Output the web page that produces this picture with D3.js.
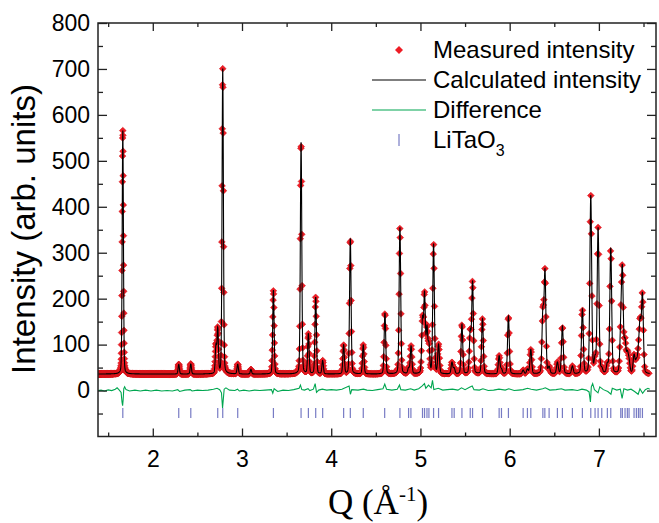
<!DOCTYPE html>
<html><head><meta charset="utf-8">
<script src="https://cdn.jsdelivr.net/npm/d3@7"></script>
<style>
body{margin:0;background:#fff}
svg{display:block}
text{font-family:"Liberation Sans",Arial,sans-serif;fill:#000}
</style>
</head><body>
<svg id="chart" width="659" height="523"></svg>
<script>
// ---- data ----
const peakQ = [1.664,2.291,2.426,2.708,2.728,2.784,2.952,3.10,3.352,3.662,3.744,3.826,3.904,4.139,4.214,4.359,4.602,4.770,4.867,4.895,5.023,5.046,5.073,5.095,5.147,5.203,5.353,5.378,5.465,5.558,5.584,5.695,5.882,5.908,5.986,6.151,6.199,6.237,6.372,6.396,6.442,6.535,6.591,6.703,6.815,6.909,6.957,6.991,7.032,7.095,7.133,7.245,7.263,7.293,7.319,7.338,7.394,7.420,7.443,7.462,7.488];
const peakTop = [566,57,58,95,132,700,57,46,218,540,122,203,65,99,331,99,169,355,48,96,150,205,130,95,318,99,61,48,144,125,235,156,75,46,162,44,46,89,165,255,50,61,140,53,176,423,65,352,45,55,309,118,250,102,75,60,75,60,75,140,205];
const background = 36;
const reflQ = [1.664,2.291,2.426,2.728,2.784,2.952,3.352,3.662,3.744,3.826,3.904,4.139,4.214,4.359,4.599,4.770,4.867,4.893,5.023,5.046,5.073,5.095,5.147,5.203,5.353,5.378,5.465,5.558,5.584,5.695,5.882,5.908,5.986,6.151,6.199,6.237,6.372,6.394,6.442,6.535,6.591,6.703,6.815,6.909,6.957,6.991,7.032,7.095,7.133,7.245,7.263,7.293,7.319,7.338,7.394,7.420,7.443,7.462,7.488];
const diffQ = [1.386,1.42,1.46,1.50,1.54,1.58,1.60,1.62,1.645,1.655,1.662,1.668,1.675,1.685,1.70,1.74,1.80,1.86,1.92,1.98,2.04,2.10,2.16,2.22,2.28,2.30,2.36,2.42,2.44,2.50,2.56,2.62,2.68,2.72,2.75,2.77,2.782,2.79,2.80,2.82,2.86,2.92,2.95,2.97,3.02,3.08,3.14,3.20,3.26,3.33,3.345,3.36,3.40,3.46,3.52,3.58,3.64,3.655,3.67,3.70,3.74,3.76,3.80,3.82,3.835,3.86,3.90,3.95,4.00,4.06,4.12,4.20,4.215,4.23,4.30,4.36,4.40,4.46,4.52,4.58,4.60,4.62,4.68,4.74,4.765,4.78,4.83,4.89,4.93,4.98,5.02,5.045,5.06,5.09,5.12,5.135,5.15,5.20,5.25,5.30,5.36,5.42,5.46,5.50,5.55,5.58,5.60,5.66,5.70,5.76,5.82,5.88,5.95,5.99,6.05,6.10,6.15,6.20,6.24,6.30,6.37,6.40,6.45,6.52,6.58,6.62,6.70,6.76,6.81,6.86,6.89,6.905,6.915,6.93,6.95,6.99,7.01,7.05,7.10,7.135,7.15,7.20,7.24,7.26,7.28,7.32,7.36,7.40,7.44,7.46,7.49,7.52,7.55,7.57];
const diffV = [0,1,-1,1.5,0,3,6,2,-4,-25,-33,-20,4,8,2,-1,1,-1,1,-1,1,-1,0,-1,2,-2,1,2,-1,1,0,1,3,5,2,-5,-38,-20,3,6,1,0,3,-1,1,-1,1,0,1,2,-6,4,-2,1,0,2,5,12,2,1,4,0,3,15,-4,1,3,1,2,1,3,10,-8,2,1,3,1,0,2,4,14,3,1,3,12,2,1,4,1,4,10,15,5,12,6,22,2,5,1,2,3,1,6,2,7,10,2,1,4,0,1,3,1,4,0,1,2,5,3,1,4,6,1,2,4,1,2,0,3,1,-3,-25,8,15,2,-5,8,2,-2,-8,5,1,3,-17,4,1,3,-2,-8,4,-6,2,5,3];
const xTicks = [2,3,4,5,6,7];
const yTicks = [0,100,200,300,400,500,600,700,800];
const legendLabels = ["Measured intensity","Calculated intensity","Difference","LiTaO"];

// ---- layout ----
const L=98, R=656, T=23, B=436.5;
const x = d3.scaleLinear().domain([1.386,7.64]).range([L,R]);
const y = d3.scaleLinear().domain([-100,800]).range([B,T]);
const svg = d3.select("#chart");

// profile from the read peak table (pseudo-Voigt shape)
function profile(q){
  let s = background;
  for(let i=0;i<peakQ.length;i++){
    const w = 0.014 + 0.0014*peakQ[i];
    const d = (q-peakQ[i])/w;
    if(Math.abs(d)>12) continue;
    const g = Math.exp(-4*Math.LN2*d*d), l = 1/(1+4*d*d);
    s += (peakTop[i]-background)*(0.8*g+0.2*l);
  }
  return s;
}
const qMin = 1.386, qMax = 7.57;
const calc = d3.range(qMin,qMax,0.0008).map(q=>[q,profile(q)]);
// time-of-flight style sampling: constant dQ/Q
const nMeas = Math.floor(Math.log(qMax/qMin)/0.0009);
const meas = d3.range(nMeas).map(i=>{const q=qMin*Math.exp(i*0.0009);return [q,profile(q)];});

svg.append("clipPath").attr("id","cp").append("rect")
  .attr("x",L).attr("y",T).attr("width",R-L).attr("height",B-T);
const plot = svg.append("g").attr("clip-path","url(#cp)");

// measured markers
const diamond = "M0,-3.4L3.4,0L0,3.4L-3.4,0Z";
plot.append("g").selectAll("path").data(meas).join("path")
  .attr("d",diamond)
  .attr("transform",d=>`translate(${x(d[0])},${y(d[1])})`)
  .attr("fill","#ee1c25").attr("stroke","#d0141b").attr("stroke-width",0.5);

// calculated line
plot.append("path").datum(calc)
  .attr("d",d3.line().x(d=>x(d[0])).y(d=>y(d[1])))
  .attr("fill","none").attr("stroke","#000").attr("stroke-width",1.1);

// difference
const diff = diffQ.map((q,i)=>[q,diffV[i]]);
plot.append("path").datum(diff)
  .attr("d",d3.line().x(d=>x(d[0])).y(d=>y(d[1])))
  .attr("fill","none").attr("stroke","#00a650").attr("stroke-width",1.1);

// reflection ticks
plot.append("g").selectAll("line").data(reflQ).join("line")
  .attr("x1",d=>x(d)).attr("x2",d=>x(d))
  .attr("y1",y(-38)).attr("y2",y(-60))
  .attr("stroke","#4a4fb0").attr("stroke-opacity",0.75).attr("stroke-width",1.2);

// axes
function styleAxis(g){
  g.select(".domain").remove();
  g.selectAll(".tick line").attr("stroke","#222").attr("stroke-width",1.3);
  g.selectAll("text").style("font-size","23px").style("font-family",'"Liberation Sans",Arial,sans-serif').attr("fill","#000");
}
const yMinor = d3.range(-50,800,100);
const xMinor = d3.range(1.5,7.6,1);
svg.append("g").attr("transform",`translate(${L},0)`)
  .call(d3.axisLeft(y).tickValues(yTicks).tickSize(-9).tickPadding(8).tickFormat(d3.format("d"))).call(styleAxis);
svg.append("g").attr("transform",`translate(${L},0)`)
  .call(d3.axisLeft(y).tickValues(yMinor).tickSize(-5).tickFormat("")).call(styleAxis);
svg.append("g").attr("transform",`translate(${R},0)`)
  .call(d3.axisRight(y).tickValues(yTicks).tickSize(-9).tickFormat("")).call(styleAxis);
svg.append("g").attr("transform",`translate(${R},0)`)
  .call(d3.axisRight(y).tickValues(yMinor).tickSize(-5).tickFormat("")).call(styleAxis);
svg.append("g").attr("transform",`translate(0,${B})`)
  .call(d3.axisBottom(x).tickValues(xTicks).tickSize(-8).tickPadding(14).tickFormat(d3.format("d"))).call(styleAxis);
svg.append("g").attr("transform",`translate(0,${B})`)
  .call(d3.axisBottom(x).tickValues(xMinor).tickSize(-4).tickFormat("")).call(styleAxis);
svg.append("g").attr("transform",`translate(0,${T})`)
  .call(d3.axisTop(x).tickValues(xTicks).tickSize(-8).tickFormat("")).call(styleAxis);
svg.append("g").attr("transform",`translate(0,${T})`)
  .call(d3.axisTop(x).tickValues(xMinor).tickSize(-4).tickFormat("")).call(styleAxis);
svg.append("rect").attr("x",L).attr("y",T).attr("width",R-L).attr("height",B-T)
  .attr("fill","none").attr("stroke","#222").attr("stroke-width",1.5);

// axis titles
svg.append("text").attr("transform",`translate(35,229) rotate(-90)`)
  .attr("text-anchor","middle").style("font-size","33px").text("Intensity (arb. units)");
const xt = svg.append("text").attr("x",378).attr("y",514).attr("text-anchor","middle")
  .style("font-family",'"Liberation Serif","Times New Roman",serif').style("font-size","35px");
xt.append("tspan").text("Q (Å");
xt.append("tspan").attr("dy",-13).style("font-size","21px").text("-1");
xt.append("tspan").attr("dy",13).text(")");

// legend
const lg = svg.append("g");
const rowY = [50,80,110,140];
lg.append("path").attr("d","M0,-4L4,0L0,4L-4,0Z").attr("transform",`translate(399,${rowY[0]})`).attr("fill","#ee1c25");
lg.append("line").attr("x1",372).attr("x2",426).attr("y1",rowY[1]).attr("y2",rowY[1]).attr("stroke","#000").attr("stroke-width",1.2);
lg.append("line").attr("x1",372).attr("x2",426).attr("y1",rowY[2]).attr("y2",rowY[2]).attr("stroke","#00a650").attr("stroke-width",1.2);
lg.append("line").attr("x1",399).attr("x2",399).attr("y1",rowY[3]-6).attr("y2",rowY[3]+6).attr("stroke","#4a4fb0").attr("stroke-opacity",0.75).attr("stroke-width",1.2);
legendLabels.forEach((t,i)=>{
  const tx = lg.append("text").attr("x",433).attr("y",rowY[i]+8).style("font-size","24px").text(t);
  if(i===3) tx.append("tspan").attr("dy",8).style("font-size","16px").text("3");
});
</script>
</body></html>
